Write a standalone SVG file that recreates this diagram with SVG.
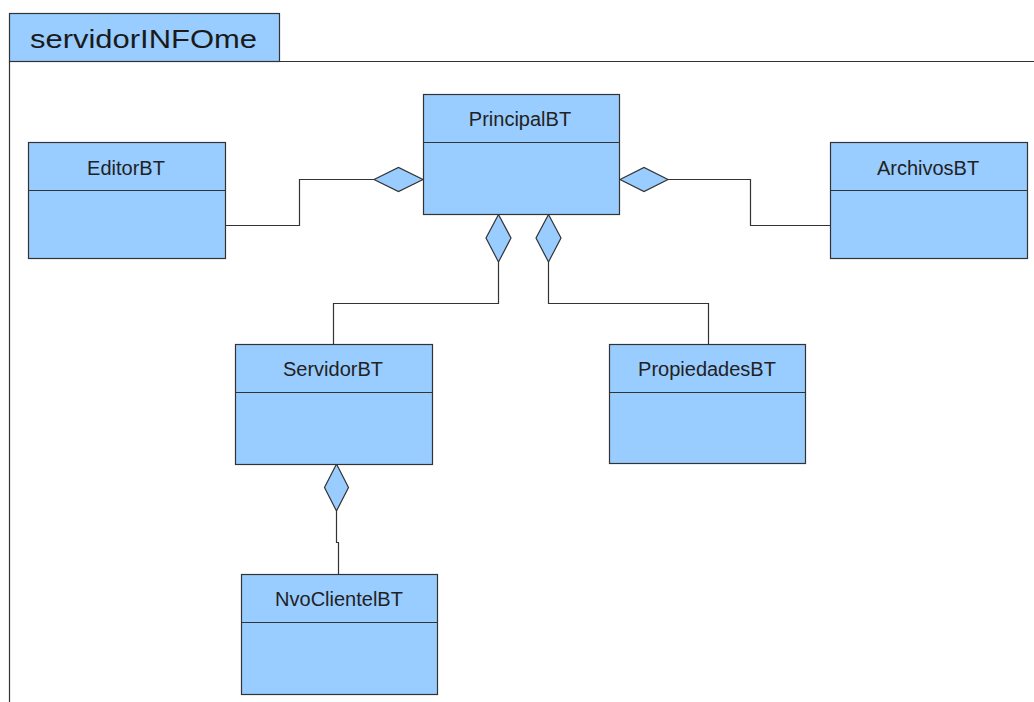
<svg xmlns="http://www.w3.org/2000/svg" width="1034" height="702" viewBox="0 0 1034 702">
  <style>
    .box { fill: #99ccff; stroke: #333333; stroke-width: 1.2; }
    .div { stroke: #333333; stroke-width: 1.2; }
    .lbl { font-family: "Liberation Sans", Arial, sans-serif; font-size: 20px; fill: #222222; text-anchor: middle; }
    .wire { fill: none; stroke: #333333; stroke-width: 1.2; }
    .agg { fill: #99ccff; stroke: #333333; stroke-width: 1.2; }
  </style>
  <rect width="1034" height="702" fill="#ffffff"/>

  <!-- package frame with tab -->
  <g id="package">
    <rect x="9.5" y="13.5" width="270" height="48" class="box"/>
    <polyline points="9.5,61.5 9.5,702" class="wire"/>
    <polyline points="279.5,61.5 1034,61.5" class="wire"/>
    <text x="30" y="48" font-family="Liberation Sans, Arial, sans-serif" font-size="26" fill="#1a1a1a" textLength="227" lengthAdjust="spacingAndGlyphs">servidorINFOme</text>
  </g>

  <!-- connectors (aggregation) -->
  <g id="connectors">
    <polyline points="225.5,225.5 299.5,225.5 299.5,179.5 374,179.5" class="wire"/>
    <polygon points="374,179.5 398.5,167.5 423,179.5 398.5,191.5" class="agg"/>

    <polyline points="830,225.5 750.5,225.5 750.5,179.5 668,179.5" class="wire"/>
    <polygon points="620,179.5 644,167.5 668,179.5 644,191.5" class="agg"/>

    <polyline points="498.5,262 498.5,303.5 333.5,303.5 333.5,344" class="wire"/>
    <polygon points="498.5,214.5 511,238 498.5,262 486,238" class="agg"/>

    <polyline points="548.5,262 548.5,303.5 708.5,303.5 708.5,344" class="wire"/>
    <polygon points="548.5,214.5 561,238 548.5,262 536,238" class="agg"/>

    <polyline points="336.5,511 336.5,542.5 338.5,542.5 338.5,574" class="wire"/>
    <polygon points="336.5,464 348.5,487.5 336.5,511 324.5,487.5" class="agg"/>
  </g>

  <g id="PrincipalBT">
    <rect x="423.5" y="94.5" width="196" height="120" class="box"/>
    <line x1="423.5" y1="142.5" x2="619.5" y2="142.5" class="div"/>
    <text x="520" y="126" class="lbl">PrincipalBT</text>
  </g>

  <g id="EditorBT">
    <rect x="28.5" y="142.5" width="197" height="116" class="box"/>
    <line x1="28.5" y1="190.5" x2="225.5" y2="190.5" class="div"/>
    <text x="126" y="175" class="lbl">EditorBT</text>
  </g>

  <g id="ArchivosBT">
    <rect x="830.5" y="142.5" width="197" height="116" class="box"/>
    <line x1="830.5" y1="190.5" x2="1027.5" y2="190.5" class="div"/>
    <text x="928" y="175" class="lbl">ArchivosBT</text>
  </g>

  <g id="ServidorBT">
    <rect x="235.5" y="344.5" width="197" height="120" class="box"/>
    <line x1="235.5" y1="392.5" x2="432.5" y2="392.5" class="div"/>
    <text x="333" y="376" class="lbl">ServidorBT</text>
  </g>

  <g id="PropiedadesBT">
    <rect x="609.5" y="344.5" width="196" height="119" class="box"/>
    <line x1="609.5" y1="392.5" x2="805.5" y2="392.5" class="div"/>
    <text x="707" y="376" class="lbl">PropiedadesBT</text>
  </g>

  <g id="NvoClientelBT">
    <rect x="241.5" y="574.5" width="196" height="120" class="box"/>
    <line x1="241.5" y1="622.5" x2="437.5" y2="622.5" class="div"/>
    <text x="339" y="606" class="lbl">NvoClientelBT</text>
  </g>
</svg>
